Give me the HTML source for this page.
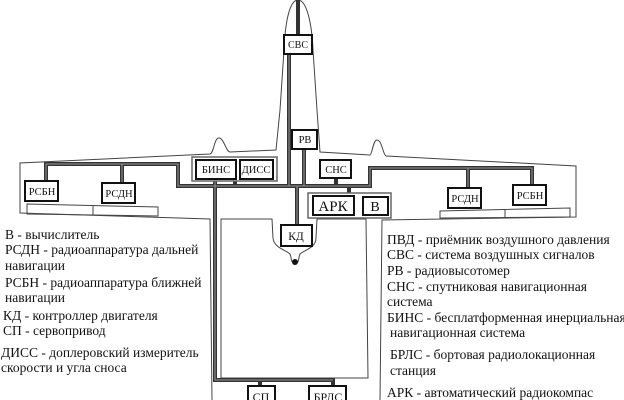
<!DOCTYPE html>
<html><head><meta charset="utf-8"><style>
body{margin:0;background:#fff;width:624px;height:400px;overflow:hidden}
svg{display:block}
text{font-family:"Liberation Serif","DejaVu Serif",serif;fill:#111}
.b{fill:#fff;stroke:#111;stroke-width:2}
.o{fill:none;stroke:#444;stroke-width:1}
.bus{fill:none;stroke:#333;stroke-width:4;stroke-linejoin:miter}
.busi{fill:none;stroke:#999;stroke-width:1}
.bt{font-size:10.5px;text-anchor:middle}
.lg{font-size:13.5px}
</style></head><body>
<svg width="624" height="400" viewBox="0 0 624 400">
<path class="o" d="M298,0 C289,0 285,25 284,50 L280,110 L276,150 L230,152 C226,152 224,138 219,138 C214,138 214,153 210,154 L20,163 L20,213 L210,219 L212,400"/>
<path class="o" d="M298,0 C307,0 312,25 313,50 L317,110 L320,152 L370,155 C372,155 373,140 377,140 C382,140 383,155 386,156 L576,166 L576,217 L382,220 L380,400"/>
<path class="o" d="M27,204 L158,207 L158,216 L27,214 Z M93,205 L93,215"/>
<path class="o" d="M440,211 L570,208 L570,217 L440,218 Z M505,209 L505,218"/>
<path class="o" d="M221,219 L272,219 L273,238 C274,248 286,250 290,254 C292,258 290,262 295,264 C300,262 298,258 300,254 C304,250 316,248 316,238 L317,219 L366,219 L368,378 L221,378 Z"/>
<circle cx="295" cy="262" r="3" fill="#111"/>
<g>
<path class="bus" d="M298,0 L298,35"/>
<path class="bus" d="M289,53 L289,186 M304,148 L304,186"/>
<path class="bus" d="M46,181 L46,164 L178,164 L178,186 L370,186 L370,168 L532,168 L532,185 M122,164 L122,183 M468,168 L468,188 M336,178 L336,186 M349,186 L349,196 M235,179 L235,186 M297,186 L297,225"/>
<path class="bus" d="M215,179 L215,380 L333,380 L333,387 M260,380 L260,387"/>
<path class="busi" d="M46,181 L46,164 L178,164 L178,186 L370,186 L370,168 L532,168 L532,185 M122,164 L122,183 M468,168 L468,188 M289,53 L289,186 M304,148 L304,186 M215,179 L215,380 L333,380 M297,186 L297,225"/>
</g>
<rect x="192" y="157" width="85" height="24" fill="#fff" stroke="#666" stroke-width="1.5"/>
<rect x="308" y="193" width="83" height="25" fill="#fff" stroke="#666" stroke-width="1.5"/>
<rect class="b" x="284" y="35" width="28" height="19"/><text class="bt" x="298" y="48" style="font-size:10px">СВС</text>
<rect class="b" x="292" y="130" width="25" height="19"/><text class="bt" x="305" y="143">РВ</text>
<rect class="b" x="196" y="160" width="40" height="19"/><text class="bt" x="216" y="173">БИНС</text>
<rect class="b" x="240" y="160" width="33" height="19"/><text class="bt" x="256" y="173">ДИСС</text>
<rect class="b" x="320" y="160" width="31" height="18"/><text class="bt" x="336" y="173">СНС</text>
<rect class="b" x="313" y="196" width="41" height="19"/><text class="bt" x="333" y="211" style="font-size:15px">АРК</text>
<rect class="b" x="363" y="197" width="25" height="18"/><text class="bt" x="375" y="211" style="font-size:14px">В</text>
<rect class="b" x="25" y="181" width="33" height="20"/><text class="bt" x="42" y="195">РСБН</text>
<rect class="b" x="102" y="183" width="33" height="20"/><text class="bt" x="119" y="197">РСДН</text>
<rect class="b" x="448" y="188" width="33" height="20"/><text class="bt" x="465" y="202">РСДН</text>
<rect class="b" x="513" y="185" width="33" height="20"/><text class="bt" x="530" y="199">РСБН</text>
<rect class="b" x="281" y="225" width="31" height="21"/><text class="bt" x="296" y="240" style="font-size:11.5px">КД</text>
<rect class="b" x="248" y="386" width="27" height="20"/><text class="bt" x="261" y="401" style="font-size:12px">СП</text>
<rect class="b" x="309" y="386" width="37" height="20"/><text class="bt" x="328" y="401" style="font-size:12px">БРЛС</text>
<g class="lg">
<text x="5" y="239">В - вычислитель</text>
<text x="5" y="254">РСДН - радиоаппаратура дальней</text>
<text x="5" y="270">навигации</text>
<text x="5" y="287">РСБН - радиоаппаратура ближней</text>
<text x="5" y="302">навигации</text>
<text x="3" y="320">КД - контроллер двигателя</text>
<text x="3" y="335">СП - сервопривод</text>
<text x="1" y="357">ДИСС - доплеровский измеритель</text>
<text x="1" y="372">скорости и угла сноса</text>
</g>
<g class="lg">
<text x="387" y="244">ПВД - приёмник воздушного давления</text>
<text x="387" y="259">СВС - система воздушных сигналов</text>
<text x="387" y="275">РВ - радиовысотомер</text>
<text x="387" y="291">СНС - спутниковая навигационная</text>
<text x="387" y="306">система</text>
<text x="387" y="322">БИНС - бесплатформенная инерциальная</text>
<text x="390" y="337">навигационная система</text>
<text x="390" y="359">БРЛС - бортовая радиолокационная</text>
<text x="390" y="375">станция</text>
<text x="387" y="397">АРК - автоматический радиокомпас</text>
</g>
</svg>
</body></html>
